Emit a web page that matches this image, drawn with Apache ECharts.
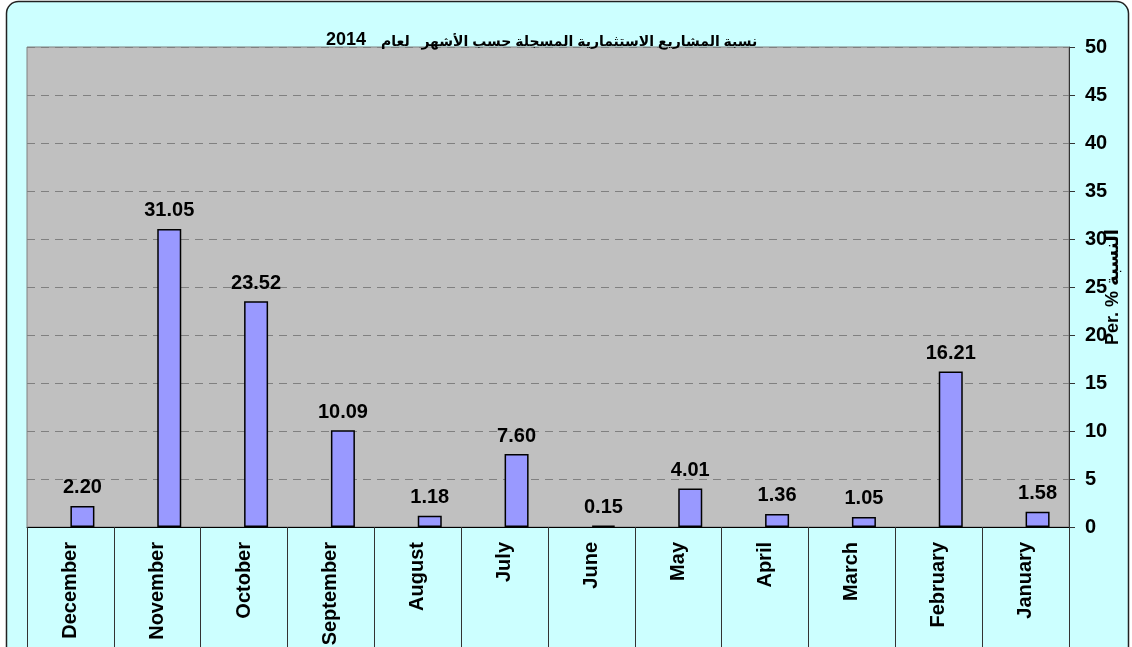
<!DOCTYPE html>
<html>
<head>
<meta charset="utf-8">
<script src="https://cdn.jsdelivr.net/npm/echarts@6/dist/echarts.min.js"></script>
<style>
html,body{margin:0;padding:0;background:#fff;}
#main{width:1132px;height:647px;}
</style>
</head>
<body>
<div id="main"></div>
<script>
// نسبة المشاريع حسب الأشهر
var months = ['December','November','October','September','August','July','June','May','April','March','February','January'];
var percent = [2.20, 31.05, 23.52, 10.09, 1.18, 7.60, 0.15, 4.01, 1.36, 1.05, 16.21, 1.58];
var yTicks = {min: 0, max: 50, step: 5};
var titleYear = '2014';
var titleText = 'نسبة المشاريع الاستثمارية المسجلة حسب الأشهر   لعام';
var yName = 'Per. % النسبة';

var font = "'Liberation Sans', 'DejaVu Sans', Arial, sans-serif";
var myChart = echarts.init(document.getElementById('main'));

myChart.setOption({
	backgroundColor: '#fff',
	animation: false,
	graphic: [{
		type: 'rect',
		z: -10,
		shape: {x: 6.5, y: 1.5, width: 1122, height: 700, r: 12},
		style: {fill: '#ccffff', stroke: '#222', lineWidth: 1.5}
	}],
	title: {
		// year drawn first so it sits on the left, as in the original
		text: '{d|' + titleYear + '   }{a|' + titleText + '}',
		left: 326,
		top: 31,
		padding: 0,
		textStyle: {
			rich: {
				d: {fontFamily: font, fontWeight: 'bold', fontSize: 18, color: '#000', verticalAlign: 'bottom'},
				a: {fontFamily: font, fontWeight: 'bold', fontSize: 14, color: '#000', verticalAlign: 'bottom'}
			}
		}
	},
	grid: {
		left: 27,
		right: 63,
		top: 47,
		bottom: 120,
		show: true,
		backgroundColor: '#c0c0c0',
		borderColor: '#808080',
		borderWidth: 1,
		containLabel: false,
		outerBoundsMode: 'none'
	},
	xAxis: {
		type: 'category',
		data: months,
		axisLine: {lineStyle: {color: '#000', width: 1}},
		axisTick: {
			show: true,
			length: 130,
			lineStyle: {color: '#333', width: 1}
		},
		axisLabel: {
			rotate: 90,
			margin: 15,
			fontFamily: font,
			fontWeight: 'bold',
			fontSize: 20,
			color: '#000'
		},
		splitLine: {show: false}
	},
	yAxis: {
		type: 'value',
		position: 'right',
		min: yTicks.min,
		max: yTicks.max,
		interval: yTicks.step,
		name: yName,
		nameLocation: 'middle',
		nameRotate: 90,
		nameGap: 35,
		nameMoveOverlap: false,
		nameTextStyle: {
			fontFamily: font,
			fontWeight: 'bold',
			fontSize: 18,
			color: '#000'
		},
		axisLine: {show: true, lineStyle: {color: '#333', width: 1}},
		axisTick: {show: true, length: 6, lineStyle: {color: '#333'}},
		axisLabel: {
			margin: 16,
			fontFamily: font,
			fontWeight: 'bold',
			fontSize: 20,
			color: '#000'
		},
		splitLine: {
			show: true,
			lineStyle: {color: '#808080', type: [8, 6], width: 1}
		}
	},
	series: [
		{
			// empty slot so the bars sit right of the category centre
			type: 'bar',
			name: 'pad',
			barWidth: 24,
			barGap: 0,
			data: [],
			silent: true
		},
		{
			type: 'bar',
			name: 'Per. %',
			barWidth: 24,
			barGap: 0,
			data: percent,
			itemStyle: {
				color: '#9999ff',
				borderColor: '#000',
				borderWidth: 1.5
			},
			label: {
				show: true,
				position: 'top',
				distance: 8,
				formatter: function (p) { return p.value.toFixed(2); },
				fontFamily: font,
				fontWeight: 'bold',
				fontSize: 20,
				color: '#000'
			}
		}
	]
});
</script>
</body>
</html>
